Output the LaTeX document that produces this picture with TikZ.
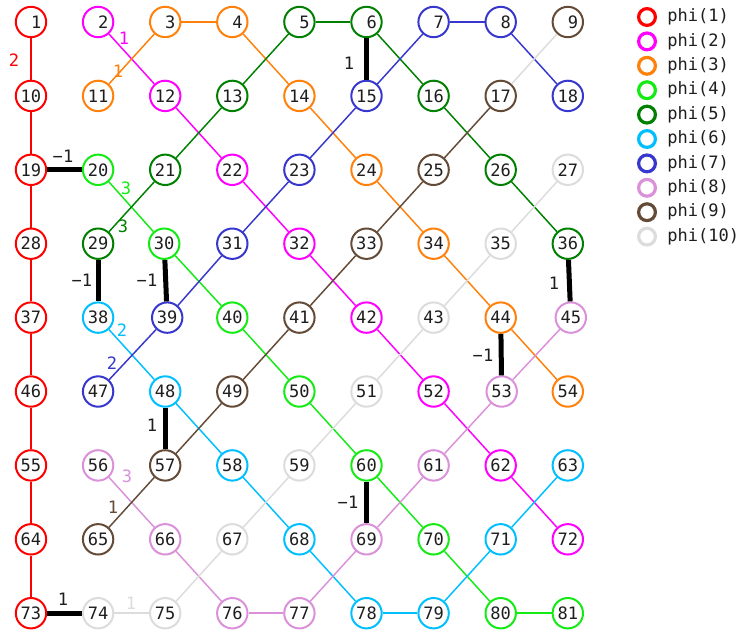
\documentclass[tikz,border=0pt]{standalone}
\usepackage{fontspec}
\setmonofont{DejaVu Sans Mono}
\definecolor{cR}{RGB}{255,0,0}
\definecolor{cM}{RGB}{255,0,255}
\definecolor{cO}{RGB}{255,128,10}
\definecolor{cL}{RGB}{20,235,20}
\definecolor{cG}{RGB}{0,128,0}
\definecolor{cC}{RGB}{0,191,255}
\definecolor{cB}{RGB}{55,55,205}
\definecolor{cP}{RGB}{218,145,218}
\definecolor{cW}{RGB}{100,75,55}
\definecolor{cY}{RGB}{220,220,220}
\definecolor{ink}{RGB}{30,30,30}
\begin{document}
\begin{tikzpicture}[x=0.75pt,y=-0.75pt,
  every node/.style={font=\ttfamily\fontsize{12.8}{14}\selectfont, text=ink},
  vtx/.style={circle, line width=1.5pt, minimum size=22.8pt, inner sep=0pt, fill=white},
  conn/.style={line width=1.1pt, draw=#1},
  bar/.style={line width=3.75pt, draw=black},
  wlbl/.style={inner sep=0pt, text=#1},
  lgc/.style={circle, line width=2.4pt, minimum size=12.6pt, inner sep=0pt, draw=#1},
  lgt/.style={anchor=west, inner sep=0pt}]
\useasboundingbox (0,0) rectangle (741,633);

% grid of vertices, 9 per row (the last field is a small horizontal nudge)
\foreach \n/\c/\dx in {1/cR/0,2/cM/0,3/cO/0,4/cO/0,5/cG/0,6/cG/0,7/cB/0,8/cB/0,9/cW/0,
  10/cR/0,11/cO/0,12/cM/0,13/cG/0,14/cO/0,15/cB/0,16/cG/0,17/cW/0,18/cB/0,
  19/cR/0,20/cL/0,21/cG/0,22/cM/0,23/cB/0,24/cO/0,25/cW/0,26/cG/0,27/cY/0,
  28/cR/0,29/cG/0,30/cL/-1,31/cB/0,32/cM/0,33/cW/0,34/cO/0,35/cY/0,36/cG/0,
  37/cR/0,38/cC/0,39/cB/2,40/cL/0,41/cW/0,42/cM/0,43/cY/0,44/cO/0,45/cP/3,
  46/cR/0,47/cB/0,48/cC/0,49/cW/0,50/cL/0,51/cY/0,52/cM/0,53/cP/1,54/cO/0,
  55/cR/0,56/cP/0,57/cW/0,58/cC/0,59/cY/0,60/cL/0,61/cP/0,62/cM/0,63/cC/0,
  64/cR/0,65/cW/0,66/cP/0,67/cY/0,68/cC/0,69/cP/0,70/cL/0,71/cC/0,72/cM/0,
  73/cR/0,74/cY/0,75/cY/0,76/cP/0,77/cP/0,78/cC/0,79/cC/0,80/cL/0,81/cL/0}{
  \pgfmathtruncatemacro\col{mod(\n-1,9)}
  \pgfmathtruncatemacro\row{div(\n-1,9)}
  \node[vtx, draw=\c] (n\n) at ({31+67.1*\col+\dx},{22+73.9*\row}) {\ifnum\n<10 \phantom{0}\fi\n};
}

% chains, one colour each
\draw[conn=cR] (n1) -- (n10) -- (n19) -- (n28) -- (n37) -- (n46) -- (n55) -- (n64) -- (n73);
\draw[conn=cM] (n2) -- (n12); \draw[conn=cM] (n12) -- (n22); \draw[conn=cM] (n22) -- (n32);
\draw[conn=cM] (n32) -- (n42); \draw[conn=cM] (n42) -- (n52); \draw[conn=cM] (n52) -- (n62);
\draw[conn=cM] (n62) -- (n72);
\draw[conn=cO] (n11) -- (n3); \draw[conn=cO] (n3) -- (n4); \draw[conn=cO] (n4) -- (n14);
\draw[conn=cO] (n14) -- (n24); \draw[conn=cO] (n24) -- (n34); \draw[conn=cO] (n34) -- (n44);
\draw[conn=cO] (n44) -- (n54);
\draw[conn=cL] (n20) -- (n30); \draw[conn=cL] (n30) -- (n40); \draw[conn=cL] (n40) -- (n50);
\draw[conn=cL] (n50) -- (n60); \draw[conn=cL] (n60) -- (n70); \draw[conn=cL] (n70) -- (n80);
\draw[conn=cL] (n80) -- (n81);
\draw[conn=cG] (n29) -- (n21); \draw[conn=cG] (n21) -- (n13); \draw[conn=cG] (n13) -- (n5);
\draw[conn=cG] (n5) -- (n6); \draw[conn=cG] (n6) -- (n16); \draw[conn=cG] (n16) -- (n26);
\draw[conn=cG] (n26) -- (n36);
\draw[conn=cC] (n38) -- (n48); \draw[conn=cC] (n48) -- (n58); \draw[conn=cC] (n58) -- (n68);
\draw[conn=cC] (n68) -- (n78); \draw[conn=cC] (n78) -- (n79); \draw[conn=cC] (n79) -- (n71);
\draw[conn=cC] (n71) -- (n63);
\draw[conn=cB] (n47) -- (n39); \draw[conn=cB] (n39) -- (n31); \draw[conn=cB] (n31) -- (n23);
\draw[conn=cB] (n23) -- (n15); \draw[conn=cB] (n15) -- (n7); \draw[conn=cB] (n7) -- (n8);
\draw[conn=cB] (n8) -- (n18);
\draw[conn=cP] (n56) -- (n66); \draw[conn=cP] (n66) -- (n76); \draw[conn=cP] (n76) -- (n77);
\draw[conn=cP] (n77) -- (n69); \draw[conn=cP] (n69) -- (n61); \draw[conn=cP] (n61) -- (n53);
\draw[conn=cP] (n53) -- (n45);
\draw[conn=cW] (n65) -- (n57); \draw[conn=cW] (n57) -- (n49); \draw[conn=cW] (n49) -- (n41);
\draw[conn=cW] (n41) -- (n33); \draw[conn=cW] (n33) -- (n25); \draw[conn=cW] (n25) -- (n17);
\draw[conn=cY] (n17) -- (n9);
\draw[conn=cY] (n74) -- (n75); \draw[conn=cY] (n75) -- (n67); \draw[conn=cY] (n67) -- (n59);
\draw[conn=cY] (n59) -- (n51); \draw[conn=cY] (n51) -- (n43); \draw[conn=cY] (n43) -- (n35);
\draw[conn=cY] (n35) -- (n27);

% heavy links
\draw[bar] (n19) -- (n20);
\draw[bar] (n6) -- (n15);
\draw[bar] (n29) -- (n38);
\draw[bar] (n30) -- (n39);
\draw[bar] (n36) -- (n45);
\draw[bar] (n44) -- (n53);
\draw[bar] (n48) -- (n57);
\draw[bar] (n60) -- (n69);
\draw[bar] (n73) -- (n74);

% weights
\node[wlbl=cR] (w1) at (14,60) {2};
\node[wlbl=cM] (w2) at (124,38) {1};
\node[wlbl=cO] (w3) at (118,71) {1};
\node[wlbl=cL] (w4) at (126,188) {3};
\node[wlbl=cG] (w5) at (123,226) {3};
\node[wlbl=cC] (w6) at (122,330) {2};
\node[wlbl=cB] (w7) at (112,363) {2};
\node[wlbl=cP] (w8) at (127,476) {3};
\node[wlbl=cW] (w9) at (113,507) {1};
\node[wlbl=cY] (w10) at (131,603) {1};
\node[wlbl=ink] (b1) at (63,156) {−1};
\node[wlbl=ink] (b2) at (349,63) {1};
\node[wlbl=ink] (b3) at (82,280) {−1};
\node[wlbl=ink] (b4) at (147,280) {−1};
\node[wlbl=ink] (b5) at (554,283) {1};
\node[wlbl=ink] (b6) at (483,355) {−1};
\node[wlbl=ink] (b7) at (152,425) {1};
\node[wlbl=ink] (b8) at (348,502) {−1};
\node[wlbl=ink] (b9) at (63,599) {1};

% legend
\foreach \k/\c in {1/cR,2/cM,3/cO,4/cL,5/cG,6/cC,7/cB,8/cP,9/cW,10/cY}{
  \node[lgc=\c] (lc\k) at (647,{17+24.4*(\k-1)}) {};
  \node[lgt] (lt\k) at (667,{17+24.4*(\k-1)}) {phi(\k)};
}
\end{tikzpicture}
\end{document}
